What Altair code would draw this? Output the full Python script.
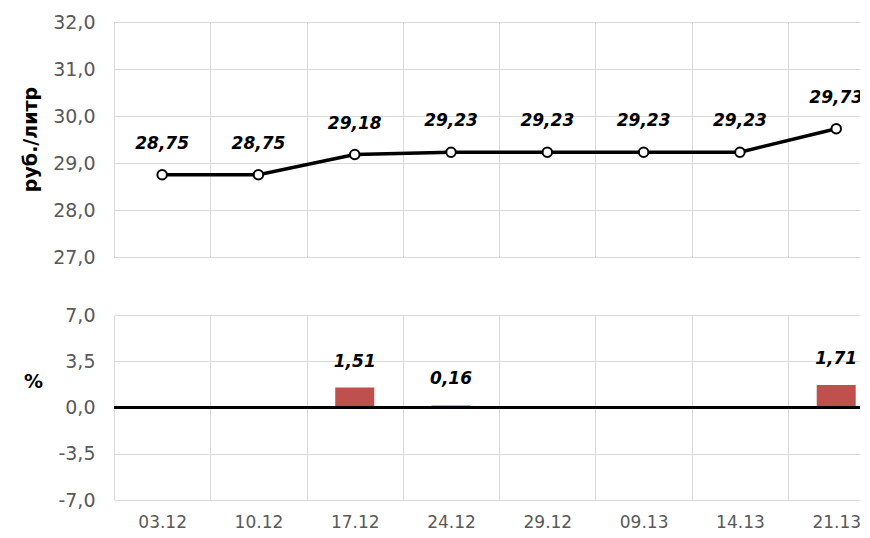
import altair as alt
import pandas as pd

categories = ["03.12", "10.12", "17.12", "24.12", "29.12", "09.13", "14.13", "21.13"]
prices = [28.75, 28.75, 29.18, 29.23, 29.23, 29.23, 29.23, 29.73]
changes = [0, 0, 1.51, 0.16, 0, 0, 0, 1.71]
price_ticks = [27, 28, 29, 30, 31, 32]
change_ticks = [-7, -3.5, 0, 3.5, 7]
zero_line = [0]

df = pd.DataFrame({
    "i": list(range(len(categories))),
    "cat": categories,
    "price": prices,
    "chg": changes,
})

FONT = "DejaVu Sans"
GRID = "#d9d9d9"
LABEL = "#595959"

cat_js = "[" + ",".join(f"'{c}'" for c in categories) + "]"
x_values = [v / 2 for v in range(-1, 2 * len(categories) - 1)]
x_scale = alt.Scale(domain=[-0.5, 7.247], nice=False, zero=False, padding=0)
grid_cond = {"condition": {"test": "datum.value % 1 !== 0", "value": 1}, "value": 0}
comma1 = "replace(replace(format(datum.value, '.1f'), '.', ','), '\u2212', '-')"

top_x_axis = alt.Axis(values=x_values, grid=True, gridColor=GRID, gridOpacity=grid_cond,
                      labels=False, ticks=False, domain=False, title=None)
bot_x_axis = alt.Axis(values=x_values, grid=True, gridColor=GRID, gridOpacity=grid_cond,
                      labelExpr=f"datum.value % 1 === 0 ? {cat_js}[datum.value] : ''",
                      labelFont=FONT, labelFontSize=17, labelColor=LABEL, labelPadding=14,
                      labelFlush=False, labelOverlap=False, labelBound=False,
                      ticks=False, domain=False, title=None)

top_y_axis = alt.Axis(values=price_ticks, labelExpr=comma1, grid=True, gridColor=GRID,
                      ticks=False, domain=False, labelFont=FONT, labelFontSize=19,
                      labelColor=LABEL, labelPadding=19,
                      title="руб./литр", titleFont=FONT, titleFontSize=19, titleFontWeight="bold",
                      titleColor="black", titleAngle=270, titleX=-84, titleY=117,
                      titleAlign="center", titleBaseline="middle")
bot_y_axis = alt.Axis(values=change_ticks, labelExpr=comma1, grid=True, gridColor=GRID,
                      ticks=False, domain=False, labelFont=FONT, labelFontSize=19,
                      labelColor=LABEL, labelPadding=19,
                      title="%", titleFont=FONT, titleFontSize=19, titleFontWeight="bold",
                      titleColor="black", titleAngle=0, titleX=-81, titleY=66,
                      titleAlign="center", titleBaseline="middle")

base_top = alt.Chart(df).transform_calculate(
    lbl="replace(format(datum.price, '.2f'), '.', ',')"
).encode(
    x=alt.X("i:Q", scale=x_scale, axis=top_x_axis),
    y=alt.Y("price:Q", scale=alt.Scale(domain=[27, 32], nice=False, zero=False), axis=top_y_axis),
)
line = base_top.mark_line(color="black", strokeWidth=3.5)
pts = base_top.mark_point(filled=True, fill="white", stroke="black", strokeWidth=2, size=90, opacity=1)
txt_top = base_top.mark_text(font=FONT, fontSize=17, fontWeight="bold", fontStyle="italic",
                             dy=-31, color="black", baseline="middle", clip=True).encode(text="lbl:N")
top = alt.layer(line, pts, txt_top).properties(width=746, height=235)

base_bot = alt.Chart(df).encode(
    x=alt.X("i:Q", scale=x_scale, axis=bot_x_axis),
)
bars = base_bot.mark_bar(color="#c0504d", width=39).encode(
    y=alt.Y("chg:Q", scale=alt.Scale(domain=[-7, 7], nice=False), axis=bot_y_axis)
)
zero = alt.Chart(pd.DataFrame({"z": zero_line})).mark_rule(color="black", strokeWidth=3).encode(
    y=alt.Y("z:Q")
)
txt_bot = base_bot.transform_filter("datum.chg != 0").transform_calculate(
    lbl="replace(format(datum.chg, '.2f'), '.', ',')"
).mark_text(font=FONT, fontSize=17, fontWeight="bold", fontStyle="italic",
            dy=-26, color="black", baseline="middle").encode(
    y=alt.Y("chg:Q"), text="lbl:N"
)
bottom = alt.layer(bars, zero, txt_bot).properties(width=746, height=185)

chart = alt.vconcat(top, bottom, spacing=58, bounds="flush").properties(
    padding={"left": 13, "top": 5, "right": 0, "bottom": 2}
).configure_view(stroke=None)

chart.save("out.html", embed_options={"renderer": "svg", "actions": False})
